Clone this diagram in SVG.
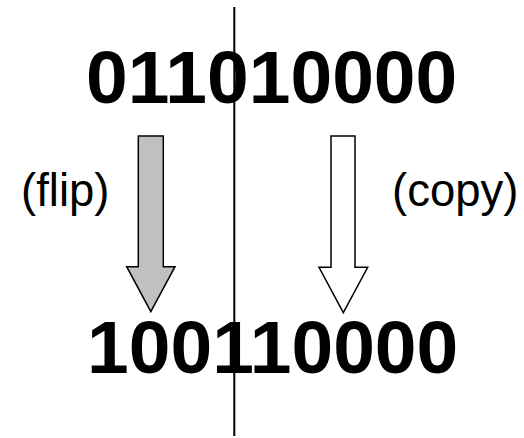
<svg xmlns="http://www.w3.org/2000/svg" width="524" height="438" viewBox="0 0 524 438">
  <style>
    .bits { font-family: "Liberation Sans", Arial, sans-serif; font-weight: bold; font-size: 75px; fill: #000; }
    .label { font-family: "Liberation Sans", Arial, sans-serif; font-size: 45.5px; fill: #000; }
    .arrow { stroke: #000; stroke-width: 1.5; stroke-linejoin: miter; }
  </style>
  <rect width="524" height="438" fill="#fff"/>
  <g id="divider">
    <line x1="234.3" y1="7" x2="234.3" y2="436" stroke="#000" stroke-width="2"/>
  </g>
  <g id="top-bits">
    <text class="bits" x="86" y="103">011010000</text>
  </g>
  <g id="bottom-bits">
    <text class="bits" x="87" y="373">100110000</text>
  </g>
  <g id="connectors">
    <path class="arrow" fill="#c0c0c0" d="M138.3,136 H163.3 V266.7 H175 L150.8,311.7 L126.7,266.7 H138.3 Z"/>
    <path class="arrow" fill="#fff" d="M331,136 H355 V267.3 H367.7 L343.3,312.7 L319,267.3 H331 Z"/>
  </g>
  <g id="flip-label">
    <text class="label" x="21" y="206">(flip)</text>
  </g>
  <g id="copy-label">
    <text class="label" x="392" y="206">(copy)</text>
  </g>
</svg>
